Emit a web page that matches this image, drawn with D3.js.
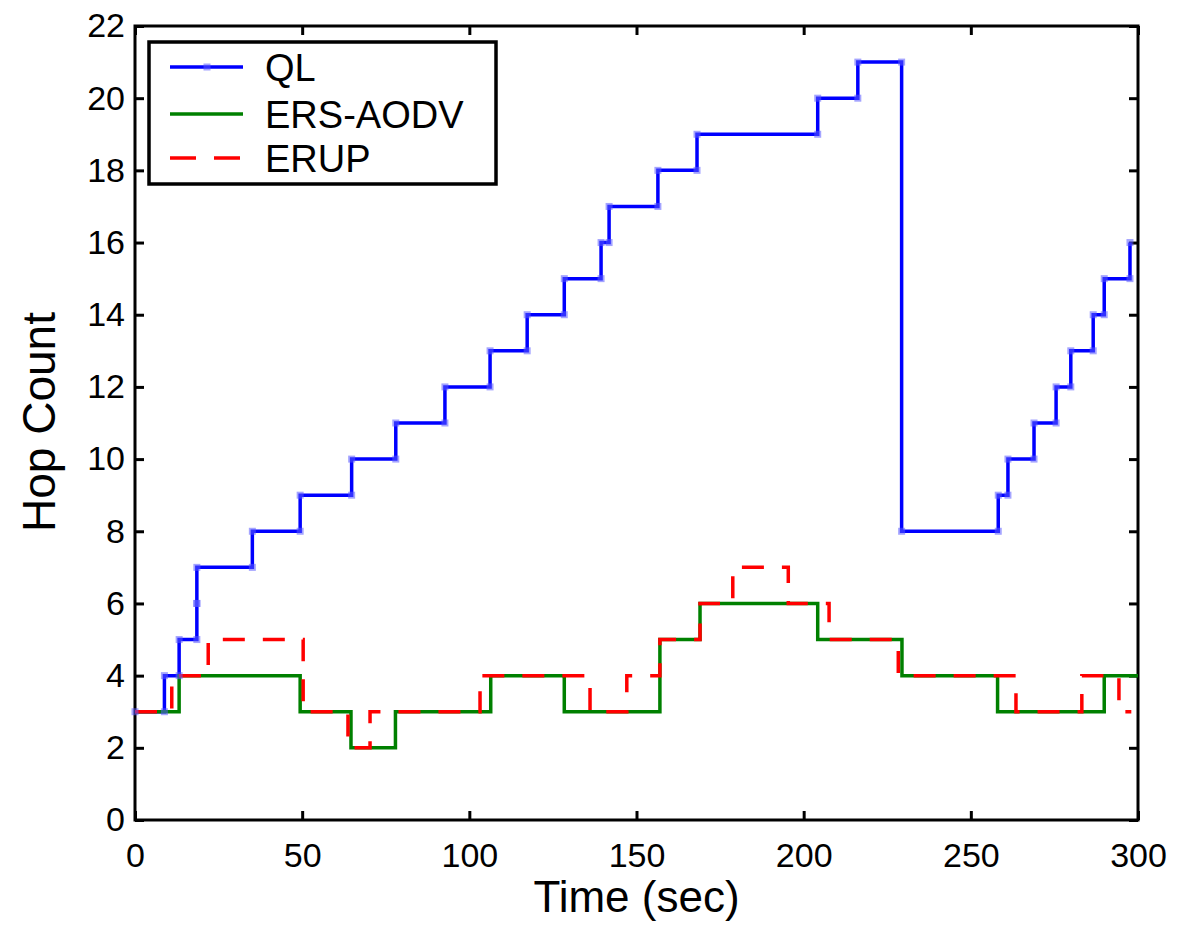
<html>
<head>
  <title>Hop Count</title>
  <script src='https://d3js.org/d3.v7.min.js'></script>
  <style>
    body { margin: 0; background: #fff; }
    text { font-family: 'Liberation Sans', Arial, Helvetica, sans-serif; }
  </style>
</head>
<body>
<script>

// step change points: time (sec) where the hop count switches to the value
var qlTime = [0, 8.8, 13.2, 18.5, 18.5, 35.1, 49.4, 64.8, 78, 92.7, 106.2, 117.3, 128.4, 139.4, 141.8, 156.4, 168.1, 204.2, 216.2, 229.3, 258.2, 261.1, 268.9, 275.5, 279.9, 286.6, 289.9, 297.6];
var qlHops = [3, 4, 5, 6, 7, 8, 9, 10, 11, 12, 13, 14, 15, 16, 17, 18, 19, 20, 21, 8, 9, 10, 11, 12, 13, 14, 15, 16];

var ersTime = [0, 13.2, 49.4, 64.6, 77.9, 106.4, 128.4, 157, 169, 204.2, 229.4, 258, 289.9, 300];
var ersHops = [3, 4, 3, 2, 3, 4, 3, 5, 6, 5, 4, 3, 4, 4];

var erupTime = [0, 11, 21.9, 50.3, 63.7, 70.3, 103.2, 136.1, 147.1, 157, 169, 178.8, 195.4, 207.6, 228.3, 263.5, 283.2, 294.3, 298];
var erupHops = [3, 4, 5, 3, 2, 3, 4, 3, 4, 5, 6, 7, 6, 5, 4, 3, 4, 3, 3];

var xTicks = [0, 50, 100, 150, 200, 250, 300];
var yTicks = [0, 2, 4, 6, 8, 10, 12, 14, 16, 18, 20, 22];

var seriesNames = ["QL", "ERS-AODV", "ERUP"];
var seriesColors = ["#0000ff", "#008000", "#ff0000"];

var width = 1177,
    height = 925;

var pLeft = 135, pRight = 1138, pTop = 26, pBottom = 820;

var x = d3.scaleLinear().domain([0, 300]).range([pLeft, pRight]),
    y = d3.scaleLinear().domain([0, 22]).range([pBottom, pTop]);

var svg = d3.select('body')
            .append('svg')
            .attr('width', width)
            .attr('height', height);

function zipPts(ts, vs) {
  return ts.map(function(t, i) { return [t, vs[i]]; });
}

var line = d3.line()
  .x(function(d) { return x(d[0]); })
  .y(function(d) { return y(d[1]); })
  .curve(d3.curveStepAfter);

// axes, matlab style ticks pointing inward
svg.append('g')
  .attr('transform', 'translate(0,' + pBottom + ')')
  .call(d3.axisBottom(x).tickValues(xTicks).tickSizeInner(-9).tickSizeOuter(0).tickPadding(23))
  .call(function(g) { g.select('.domain').remove(); })
  .call(function(g) { g.selectAll('text').attr('font-size', 34).attr('fill', '#000'); });

svg.append('g')
  .attr('transform', 'translate(0,' + pTop + ')')
  .call(d3.axisTop(x).tickValues(xTicks).tickSizeInner(-9).tickSizeOuter(0).tickFormat(''))
  .call(function(g) { g.select('.domain').remove(); });

svg.append('g')
  .attr('transform', 'translate(' + pLeft + ',0)')
  .call(d3.axisLeft(y).tickValues(yTicks).tickSizeInner(-9).tickSizeOuter(0).tickPadding(10))
  .call(function(g) { g.select('.domain').remove(); })
  .call(function(g) { g.selectAll('text').attr('font-size', 34).attr('fill', '#000'); });

svg.append('g')
  .attr('transform', 'translate(' + pRight + ',0)')
  .call(d3.axisRight(y).tickValues(yTicks).tickSizeInner(-9).tickSizeOuter(0).tickFormat(''))
  .call(function(g) { g.select('.domain').remove(); });

svg.selectAll('.tick line').attr('stroke', '#000').attr('stroke-width', 3);

svg.append('rect')
  .attr('x', pLeft)
  .attr('y', pTop)
  .attr('width', pRight - pLeft)
  .attr('height', pBottom - pTop)
  .attr('fill', 'none')
  .attr('stroke', '#000')
  .attr('stroke-width', 3);

// series
var qlPts = zipPts(qlTime, qlHops);

svg.append('path')
  .attr('d', line(qlPts))
  .attr('fill', 'none')
  .attr('stroke', seriesColors[0])
  .attr('stroke-width', 3.5);

svg.append('path')
  .attr('d', line(zipPts(ersTime, ersHops)))
  .attr('fill', 'none')
  .attr('stroke', seriesColors[1])
  .attr('stroke-width', 3.5);

svg.append('path')
  .attr('d', line(zipPts(erupTime, erupHops)))
  .attr('fill', 'none')
  .attr('stroke', seriesColors[2])
  .attr('stroke-width', 3.5)
  .attr('stroke-dasharray', '22,18');

// QL markers at both corners of every step
var marks = [];
qlPts.forEach(function(p, i) {
  marks.push(p);
  if (i + 1 < qlPts.length) marks.push([qlPts[i + 1][0], p[1]]);
});

svg.selectAll('.mk')
  .data(marks)
  .enter()
  .append('rect')
  .attr('class', 'mk')
  .attr('x', function(d) { return x(d[0]) - 3.5; })
  .attr('y', function(d) { return y(d[1]) - 3.5; })
  .attr('width', 7)
  .attr('height', 7)
  .attr('fill', '#5a5aff')
  .attr('opacity', 0.55);

// legend
var lg = svg.append('g');

lg.append('rect')
  .attr('x', 149)
  .attr('y', 42)
  .attr('width', 347)
  .attr('height', 142)
  .attr('fill', '#fff')
  .attr('stroke', '#000')
  .attr('stroke-width', 3.5);

var rowY = [67, 114, 158];

seriesNames.forEach(function(name, i) {
  lg.append('line')
    .attr('x1', 170)
    .attr('x2', 243)
    .attr('y1', rowY[i])
    .attr('y2', rowY[i])
    .attr('stroke', seriesColors[i])
    .attr('stroke-width', 3.5)
    .attr('stroke-dasharray', i == 2 ? '26,18' : null);

  lg.append('text')
    .attr('x', 265)
    .attr('y', rowY[i] + 14)
    .attr('font-size', 38)
    .text(name);
});

lg.append('rect')
  .attr('x', 203.5)
  .attr('y', rowY[0] - 3.5)
  .attr('width', 7)
  .attr('height', 7)
  .attr('fill', '#5a5aff')
  .attr('opacity', 0.55);

// axis titles
svg.append('text')
  .attr('x', (pLeft + pRight) / 2)
  .attr('y', 912)
  .attr('font-size', 44)
  .attr('text-anchor', 'middle')
  .text('Time (sec)');

svg.append('text')
  .attr('transform', 'translate(55,422) rotate(-90)')
  .attr('font-size', 46)
  .attr('text-anchor', 'middle')
  .text('Hop Count');

</script>
</body>
</html>
